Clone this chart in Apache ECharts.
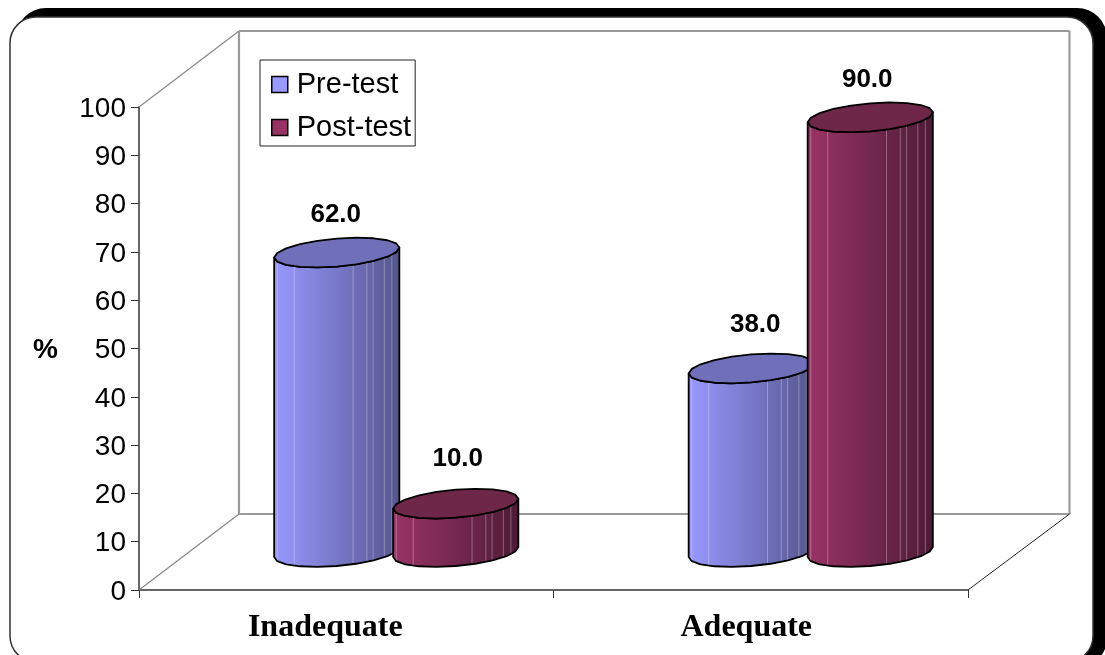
<!DOCTYPE html>
<html><head><meta charset="utf-8">
<style>html,body{margin:0;padding:0;background:#fff;overflow:hidden}#c{width:1105px;height:655px}</style>
<script src="https://cdn.jsdelivr.net/npm/echarts@6/dist/echarts.min.js"></script>
</head><body><div id="c"></div>
<script>
const categories = ['Inadequate', 'Adequate'];
const preTest = [62, 38];
const postTest = [10, 90];
const yTicksMax = 100;

const chart = echarts.init(document.getElementById('c'), null, {renderer: 'canvas'});
const DEPTH_Y = 38;
const stripes = [0.025, 0.16, 0.63, 0.74, 0.79, 0.88, 0.94];

function cylinder(offsetFrac, colors, nudges) {
  return function (params, api) {
    const idx = params.dataIndex;
    const cat = api.value(0), val = api.value(1);
    const band = api.size([1, 0])[0];
    const top = api.coord([cat, val]);
    const base = api.coord([cat, 0]);
    const cx = top[0] + offsetFrac * band;
    const a = band * 0.151, b = 14, s = 0.08;
    const yT = top[1] - DEPTH_Y, yB = base[1] - DEPTH_Y;
    const N = 20, topPts = [];
    for (let i = 0; i < N; i++) {
      const t = i / N * Math.PI * 2;
      const x = a * Math.cos(t);
      topPts.push([cx + x, yT - s * x + b * Math.sin(t)]);
    }
    const body = [];
    for (let i = 0; i <= N / 2; i++) {
      const t = i / N * Math.PI * 2;
      const x = a * Math.cos(t);
      body.push([cx + x, yB - s * x + b * Math.sin(t)]);
    }
    for (let i = N / 2; i >= 0; i--) {
      const t = i / N * Math.PI * 2;
      const x = a * Math.cos(t);
      body.push([cx + x, yT - s * x + b * Math.sin(t)]);
    }
    const children = [{
      type: 'polygon', shape: {points: body},
      style: {
        fill: new echarts.graphic.LinearGradient(0, 0, 1, 0, [
          {offset: 0, color: colors[0]},
          {offset: 0.5, color: colors[1]},
          {offset: 1, color: colors[2]}
        ]),
        stroke: '#000', lineWidth: 1.8, lineJoin: 'round'
      }
    }];
    stripes.forEach(f => {
      const x = -a + 2 * a * f;
      const h = b * Math.sqrt(1 - (x / a) * (x / a));
      children.push({
        type: 'line',
        shape: {x1: cx + x, y1: yT - s * x + h, x2: cx + x, y2: yB - s * x + h - 1},
        style: {stroke: 'rgba(255,255,255,0.3)', lineWidth: 1}
      });
    });
    children.push({
      type: 'polygon', shape: {points: topPts},
      style: {fill: colors[3], stroke: '#000', lineWidth: 1.8, lineJoin: 'round'}
    });
    children.push({
      type: 'text',
      style: {
        x: cx + nudges[idx][0], y: yT - (45.5 - 0.09 * val) + nudges[idx][1],
        text: val.toFixed(1), fill: '#000',
        font: 'bold 26px "Liberation Sans", Arial, sans-serif',
        align: 'center', verticalAlign: 'middle'
      }
    });
    return {type: 'group', children};
  };
}

function walls(params, api) {
  const o = api.coord([0, 0]);
  const band = api.size([1, 0])[0];
  const t = api.coord([0, yTicksMax]);
  const x0 = o[0] - band / 2, x1 = x0 + band * categories.length;
  const y0 = o[1], y1 = t[1];
  const dx = 100, dxR = 101.5, dy = 76;
  const grey = {stroke: '#999', lineWidth: 2.2};
  const diag = {stroke: '#888', lineWidth: 1.2};
  const line = (a, b, c, d, st) => ({type: 'line', shape: {x1: a, y1: b, x2: c, y2: d}, style: st});
  return {type: 'group', children: [
    line(x0 + dx, y1 - dy, x1 + dxR, y1 - dy, grey),
    line(x0 + dx, y1 - dy, x0 + dx, y0 - dy, grey),
    line(x1 + dxR, y1 - dy, x1 + dxR, y0 - dy, grey),
    line(x0 + dx, y0 - dy, x1 + dxR, y0 - dy, grey),
    line(x0, y1, x0 + dx, y1 - dy, diag),
    line(x0, y0, x0 + dx, y0 - dy, diag),
    line(x1, y0, x1 + dxR, y0 - dy, {stroke: '#222', lineWidth: 1})
  ]};
}

const preColors = ['#9999FF', '#7878C8', '#55558C', '#7070BA'];
const postColors = ['#993366', '#742850', '#4E1A36', '#6E2749'];

chart.setOption({
  animation: false,
  backgroundColor: '#fff',
  graphic: [
    {type: 'rect', z: -10, silent: true, shape: {x: 16, y: 8, width: 1091, height: 660, r: 30}, style: {fill: '#000'}},
    {type: 'rect', z: -9, silent: true, shape: {x: 10, y: 17, width: 1083, height: 645, r: 26}, style: {fill: '#fff', stroke: '#333', lineWidth: 1.5}}
  ],
  grid: {left: 139, top: 107, width: 829, height: 483, containLabel: false},
  legend: {
    left: 260, top: 60, orient: 'vertical', padding: [10, 4, 4, 11],
    backgroundColor: '#fff', borderColor: '#222', borderWidth: 1, borderRadius: 0,
    itemWidth: 16, itemHeight: 16, itemGap: 14,
    textStyle: {fontFamily: '"Liberation Sans", Arial, sans-serif', fontSize: 29, color: '#000', padding: [0, 0, 0, 4]},
    data: [
      {name: 'Pre-test', icon: 'rect', itemStyle: {color: '#9999FF', borderColor: '#000', borderWidth: 1.5}},
      {name: 'Post-test', icon: 'rect', itemStyle: {color: '#993366', borderColor: '#000', borderWidth: 1.5}}
    ],
    selectedMode: false
  },
  xAxis: {
    type: 'category', data: categories,
    axisLine: {lineStyle: {color: '#333', width: 1.5}},
    axisTick: {show: true, length: 8, lineStyle: {color: '#333', width: 1}},
    axisLabel: {
      margin: 22, interval: 0,
      formatter: v => v === 'Inadequate' ? '{a|' + v + '}' : '{b|' + v + '}',
      rich: {
        a: {fontFamily: '"Liberation Serif", "Times New Roman", serif', fontWeight: 'bold', fontSize: 32, color: '#000', padding: [0, 42, 0, 0]},
        b: {fontFamily: '"Liberation Serif", "Times New Roman", serif', fontWeight: 'bold', fontSize: 32, color: '#000', padding: [0, 29, 0, 0]}
      }
    },
    splitLine: {show: false}
  },
  yAxis: {
    type: 'value', min: 0, max: yTicksMax, interval: 10,
    name: '{p|%}', nameLocation: 'middle', nameRotate: 0, nameGap: 81,
    nameTextStyle: {
      rich: {p: {fontFamily: '"Liberation Sans", Arial, sans-serif', fontWeight: 'bold', fontSize: 28, color: '#000', padding: [4, 0, 0, 0]}}
    },
    axisLine: {show: true, lineStyle: {color: '#333', width: 1.5}},
    axisTick: {show: true, length: 8, lineStyle: {color: '#333', width: 1}},
    axisLabel: {
      margin: 13,
      formatter: v => '{n|' + v + '}',
      rich: {n: {fontFamily: '"Liberation Sans", Arial, sans-serif', fontSize: 28, color: '#000', padding: [4, 0, 0, 0]}}
    },
    splitLine: {show: false}
  },
  series: [
    {type: 'custom', name: 'walls', z: 1, silent: true, renderItem: walls, data: [[0, 0]], encode: {x: 0, y: 1}, clip: false},
    {type: 'custom', name: 'Pre-test', z: 3, renderItem: cylinder(-9.5 / 414.5, preColors, [[-1, 2], [4, -2]]),
      itemStyle: {color: '#9999FF'}, encode: {x: 0, y: 1}, clip: false,
      data: preTest.map((v, i) => [i, v])},
    {type: 'custom', name: 'Post-test', z: 4, renderItem: cylinder(109.5 / 414.5, postColors, [[2, 0], [-3, 0]]),
      itemStyle: {color: '#993366'}, encode: {x: 0, y: 1}, clip: false,
      data: postTest.map((v, i) => [i, v])}
  ]
});
</script></body></html>
